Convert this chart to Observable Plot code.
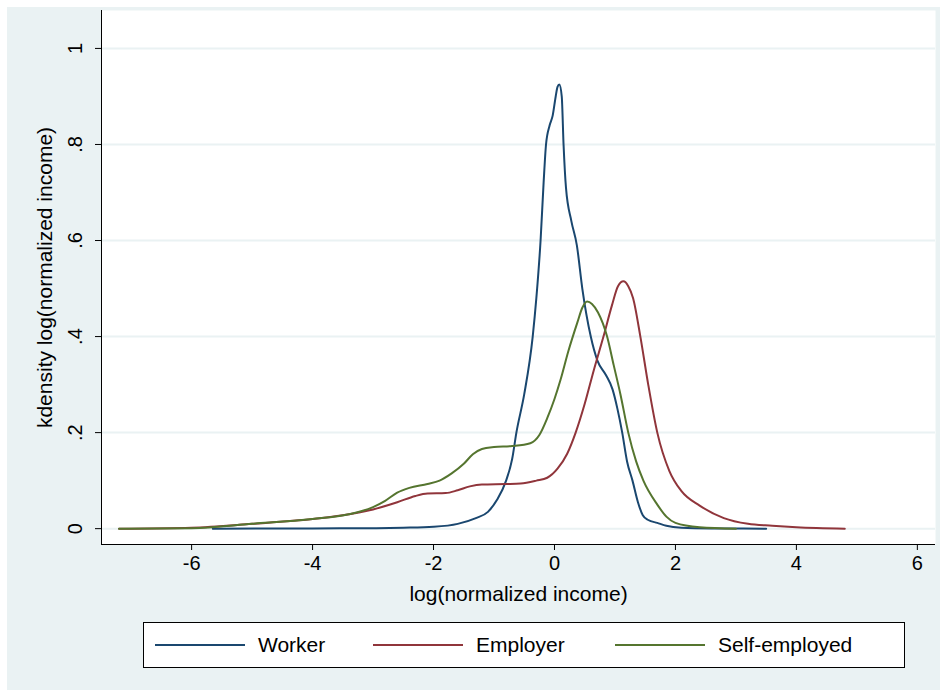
<!DOCTYPE html>
<html>
<head>
<meta charset="utf-8">
<script src="https://cdn.jsdelivr.net/npm/d3@7"></script>
<script src="https://cdn.jsdelivr.net/npm/@observablehq/plot@0.6"></script>
<style>
  body { margin: 0; background: white; font-family: "Liberation Sans", Arial, sans-serif; }
  #outer { position: absolute; left: 7px; top: 7px; width: 933px; height: 683px; background: #eaf2f3; }
  #chart { position: absolute; left: 0; top: 0; }
  #legend { position: absolute; left: 143px; top: 622px; width: 760px; height: 44px; border: 1px solid #000; background: white; font-size: 21px; }
  .item { position: absolute; top: 10px; }
  .swatch { position: absolute; top: 21px; width: 90px; height: 2px; }
</style>
</head>
<body>
<div id="outer"></div>
<div id="chart"></div>
<div id="legend"></div>
<script>
// kernel density curves: [x, density]
const worker = [[-5.65,0],[-4,0.0005],[-3,0.001],[-2.5,0.002],[-2,0.004],[-1.6,0.01],[-1.3,0.022],[-1.1,0.035],[-0.95,0.06],[-0.8,0.1],[-0.7,0.145],[-0.63,0.2],[-0.5,0.28],[-0.36,0.4],[-0.3,0.48],[-0.23,0.6],[-0.18,0.72],[-0.14,0.8],[-0.08,0.84],[-0.03,0.86],[0.02,0.9],[0.05,0.92],[0.08,0.925],[0.12,0.9],[0.15,0.8],[0.19,0.71],[0.28,0.64],[0.37,0.59],[0.46,0.5],[0.6,0.4],[0.71,0.35],[0.85,0.32],[0.96,0.29],[1.04,0.25],[1.12,0.2],[1.2,0.14],[1.29,0.1],[1.38,0.055],[1.46,0.028],[1.55,0.018],[1.7,0.012],[1.85,0.006],[2.1,0.002],[2.6,0.0005],[3.5,0]];
const employer = [[-7.2,0],[-6,0.002],[-5,0.01],[-4,0.02],[-3.5,0.028],[-3,0.04],[-2.6,0.055],[-2.3,0.068],[-2.1,0.073],[-1.8,0.074],[-1.6,0.08],[-1.4,0.088],[-1.2,0.092],[-0.8,0.093],[-0.56,0.094],[-0.3,0.1],[-0.12,0.106],[0.05,0.125],[0.21,0.156],[0.35,0.2],[0.5,0.26],[0.65,0.33],[0.81,0.4],[0.95,0.465],[1.05,0.505],[1.14,0.515],[1.22,0.505],[1.3,0.48],[1.42,0.4],[1.55,0.3],[1.7,0.2],[1.9,0.12],[2.1,0.078],[2.4,0.048],[2.8,0.022],[3.2,0.01],[3.6,0.006],[4,0.003],[4.8,0]];
const selfEmployed = [[-7.2,0],[-6,0.001],[-5,0.01],[-4,0.02],[-3.4,0.03],[-3,0.045],[-2.8,0.058],[-2.6,0.075],[-2.4,0.085],[-2.1,0.093],[-1.9,0.1],[-1.7,0.115],[-1.5,0.135],[-1.35,0.155],[-1.2,0.166],[-1,0.17],[-0.7,0.172],[-0.4,0.178],[-0.25,0.195],[-0.12,0.23],[0,0.27],[0.1,0.31],[0.23,0.37],[0.38,0.43],[0.46,0.46],[0.54,0.473],[0.62,0.468],[0.72,0.45],[0.87,0.4],[0.98,0.34],[1.09,0.28],[1.22,0.2],[1.35,0.14],[1.47,0.1],[1.7,0.05],[1.85,0.025],[2,0.012],[2.4,0.003],[3,0]];

const series = ["Worker", "Employer", "Self-employed"];
const colors = ["#1a476f", "#90353b", "#55752f"];
const yTicks = [0, 0.2, 0.4, 0.6, 0.8, 1];
const xTicks = [-6, -4, -2, 0, 2, 4, 6];

const rows = [];
[worker, employer, selfEmployed].forEach((s, i) =>
  s.forEach(([x, y]) => rows.push({x, y, series: series[i]})));

const xMin = -7.49, xMax = 6.3, yMin = -0.033, yMax = 1.079;

const plot = Plot.plot({
  width: 947,
  height: 612,
  marginLeft: 101,
  marginRight: 12,
  marginTop: 10,
  marginBottom: 68,
  style: {background: "transparent", fontFamily: "Liberation Sans, Arial, sans-serif", fontSize: "20px", color: "#000"},
  x: {domain: [xMin, xMax]},
  y: {domain: [yMin, yMax]},
  color: {domain: series, range: colors},
  marks: [
    Plot.frame({fill: "white", stroke: null}),
    Plot.gridY(yTicks, {stroke: "#eaf2f3", strokeOpacity: 1, strokeWidth: 2}),
    Plot.line(rows, {x: "x", y: "y", stroke: "series", strokeWidth: 2, curve: "monotone-x"}),
    Plot.ruleX([xMin], {stroke: "#000"}),
    Plot.ruleY([yMin], {stroke: "#000"}),
    Plot.axisY(yTicks, {tickSize: 6, tickPadding: 14, tickRotate: -90, fontSize: 20, label: null,
      tickFormat: d => d === 0 ? "0" : d === 1 ? "1" : String(d).replace("0.", ".")}),
    Plot.axisX(xTicks, {tickSize: 6, tickPadding: 5, fontSize: 20, label: null,
      tickFormat: d => String(d)}),
    Plot.text(["kdensity log(normalized income)"], {frameAnchor: "left", textAnchor: "middle", dx: -56, rotate: -90, fontSize: 21}),
    Plot.text(["log(normalized income)"], {frameAnchor: "bottom", dy: 56, fontSize: 21})
  ]
});
document.getElementById("chart").append(plot);

const legend = document.getElementById("legend");
const swatchX = [11, 229, 471];
series.forEach((name, i) => {
  const sw = document.createElement("div");
  sw.className = "swatch";
  sw.style.left = swatchX[i] + "px";
  sw.style.background = colors[i];
  legend.append(sw);
  const t = document.createElement("div");
  t.className = "item";
  t.style.left = (swatchX[i] + 103) + "px";
  t.textContent = name;
  legend.append(t);
});
</script>
</body>
</html>
